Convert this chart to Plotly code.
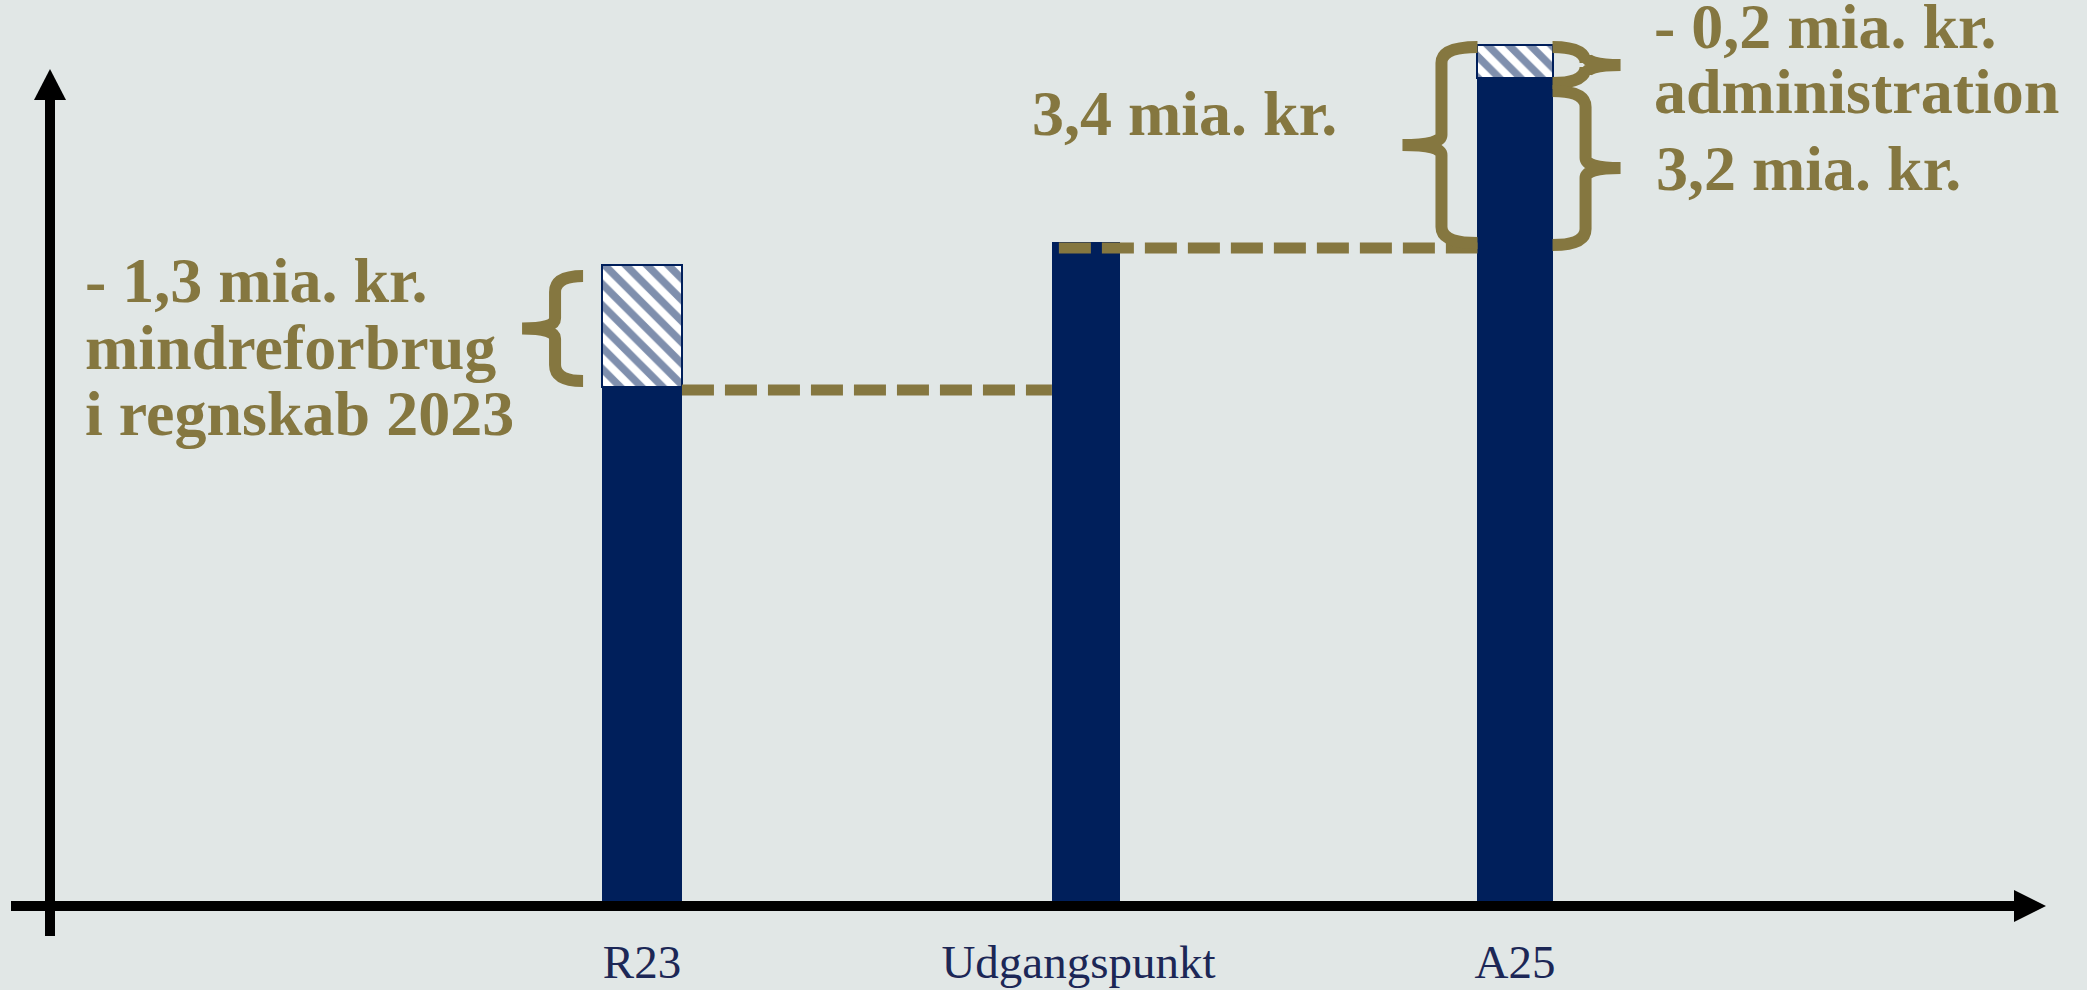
import plotly.graph_objects as go

# ---------------- data ----------------
categories = ["R23", "Udgangspunkt", "A25"]
solid_values = [5.19, 6.63, 8.28]      # dark bar part (chart units)
hatched_values = [1.22, 0.0, 0.33]     # hatched part on top
bar_widths = [0.183, 0.156, 0.172]
bar_shift = [0.0, 0.017, 0.0]          # small horizontal nudge of bars

r23_label_lines = ["- 1,3 mia. kr.", "mindreforbrug", "i regnskab 2023"]
total_label = "3,4 mia. kr."
admin_label_lines = ["- 0,2 mia. kr.", "administration"]
rest_label = "3,2 mia. kr."

# ---------------- styling ----------------
W, H = 2087, 990
PH = 906                      # plot height in px (x axis position)
YMAX = 9.06
XMIN, XMAX = -1.4708, 3.3104
BG = "#E1E7E6"
NAVY = "#001F5B"
GOLD = "#857740"
TICK = "#1C2756"
FONT_B = "Liberation Serif"
S = 64


def xd_to_px(xd):
    return (xd - XMIN) / (XMAX - XMIN) * W


def xp(px):
    return px / W


def yd(py):
    return (PH - py) / PH * YMAX


def ypx(v):
    return PH - v / YMAX * PH


offsets = [s - w / 2 for s, w in zip(bar_shift, bar_widths)]

fig = go.Figure()
fig.add_trace(go.Bar(x=categories, y=solid_values, width=bar_widths, offset=offsets,
                     marker=dict(color=NAVY, line=dict(width=0)),
                     showlegend=False, hoverinfo="skip"))
fig.add_trace(go.Bar(x=categories, y=hatched_values, base=solid_values, width=bar_widths,
                     offset=offsets,
                     marker=dict(color="white", line=dict(color=NAVY, width=2),
                                 pattern=dict(shape="\\", fgcolor=NAVY, bgcolor="white",
                                              size=15, solidity=0.5)),
                     showlegend=False, hoverinfo="skip"))

shapes = []

# dashed connector lines
left_edges = [i + o for i, o in enumerate(offsets)]
right_edges = [i + o + w for i, (o, w) in enumerate(zip(offsets, bar_widths))]
dash_off = 3 * YMAX / PH
shapes.append(dict(type="line", xref="x", yref="y",
                   x0=right_edges[0], x1=left_edges[1],
                   y0=solid_values[0] - dash_off, y1=solid_values[0] - dash_off,
                   line=dict(color=GOLD, width=11, dash="32px,11px"), layer="above"))
off_px = 7 / W * (XMAX - XMIN)
shapes.append(dict(type="line", xref="x", yref="y",
                   x0=left_edges[1] + off_px, x1=left_edges[2],
                   y0=solid_values[1] - 5 * YMAX / PH, y1=solid_values[1] - 5 * YMAX / PH,
                   line=dict(color=GOLD, width=11, dash="32px,11px"), layer="above"))


def brace(x_arm, x_vert, x_tip, y_top, y_bot, r=16, rt=10):
    ym = (y_top + y_bot) / 2
    pts = [
        ("M", [(x_arm, y_top)]),
        ("Q", [(x_vert, y_top), (x_vert, y_top + r)]),
        ("L", [(x_vert, ym - rt)]),
        ("Q", [(x_vert, ym), (x_tip, ym)]),
        ("Q", [(x_vert, ym), (x_vert, ym + rt)]),
        ("L", [(x_vert, y_bot - r)]),
        ("Q", [(x_vert, y_bot), (x_arm, y_bot)]),
    ]
    s = ""
    for cmd, ps in pts:
        s += cmd + " " + " ".join(f"{xp(a):.5f},{yd(b):.5f}" for a, b in ps) + " "
    return dict(type="path", xref="paper", yref="y", path=s.strip(),
                line=dict(color=GOLD, width=12), fillcolor="rgba(0,0,0,0)", layer="above")


# R23 brace (tip left)
r23_left = xd_to_px(left_edges[0])
r23_top = ypx(solid_values[0] + hatched_values[0])
r23_bot = ypx(solid_values[0])
shapes.append(brace(r23_left - 19, r23_left - 47, r23_left - 80, r23_top + 11, r23_bot - 6))

# A25 braces
a_left = xd_to_px(left_edges[2])
a_right = xd_to_px(right_edges[2])
a_top = ypx(solid_values[2] + hatched_values[2])
a_mid = ypx(solid_values[2])
u_top = ypx(solid_values[1])
shapes.append(brace(a_left, a_left - 36, a_left - 75, a_top + 2, u_top))
shapes.append(brace(a_right, a_right + 33, a_right + 68, a_top + 2, a_mid + 5))
shapes.append(brace(a_right, a_right + 33, a_right + 68, a_mid + 13, u_top + 2))


# axes with arrows (paper coords)
def pyp(py):
    return (PH - py) / PH


shapes.append(dict(type="line", xref="paper", yref="paper", x0=xp(50), x1=xp(50),
                   y0=pyp(936), y1=pyp(98), line=dict(color="black", width=10), layer="above"))
shapes.append(dict(type="path", xref="paper", yref="paper",
                   path=f"M {xp(34)},{pyp(100)} L {xp(66)},{pyp(100)} L {xp(50)},{pyp(69)} Z",
                   fillcolor="black", line=dict(width=0), layer="above"))
shapes.append(dict(type="line", xref="paper", yref="paper", x0=xp(11), x1=xp(2016),
                   y0=pyp(906), y1=pyp(906), line=dict(color="black", width=10), layer="above"))
shapes.append(dict(type="path", xref="paper", yref="paper",
                   path=f"M {xp(2014)},{pyp(890)} L {xp(2014)},{pyp(922)} L {xp(2046)},{pyp(906)} Z",
                   fillcolor="black", line=dict(width=0), layer="above"))

annotations = []


def label(text, left_px, baseline_px):
    annotations.append(dict(text=text, xref="paper", yref="paper", x=xp(left_px),
                            y=pyp(baseline_px - 0.33 * S), xanchor="left", yanchor="middle",
                            showarrow=False,
                            font=dict(family=FONT_B, size=S, color=GOLD, weight="bold")))


for i, t in enumerate(r23_label_lines):
    label(t, 83, 302 + i * 66.5)
label(total_label, 1030, 135)
label(admin_label_lines[0], 1652, 48)
label(admin_label_lines[1], 1652, 113)
label(rest_label, 1654, 190)

fig.update_layout(
    width=W, height=H,
    margin=dict(l=0, r=0, t=0, b=H - PH, pad=0),
    paper_bgcolor=BG, plot_bgcolor=BG,
    barmode="stack", bargap=0,
    shapes=shapes, annotations=annotations,
    xaxis=dict(range=[XMIN, XMAX], showgrid=False, zeroline=False, showline=False,
               ticks="", ticklabelstandoff=24, automargin=False,
               tickfont=dict(family="Liberation Serif", size=47, color=TICK)),
    yaxis=dict(range=[0, YMAX], showgrid=False, zeroline=False, showline=False,
               showticklabels=False, automargin=False),
)

fig.write_html("out.html", config={"displayModeBar": False},
               post_script="document.body.style.margin='0';document.body.style.overflow='hidden';")
